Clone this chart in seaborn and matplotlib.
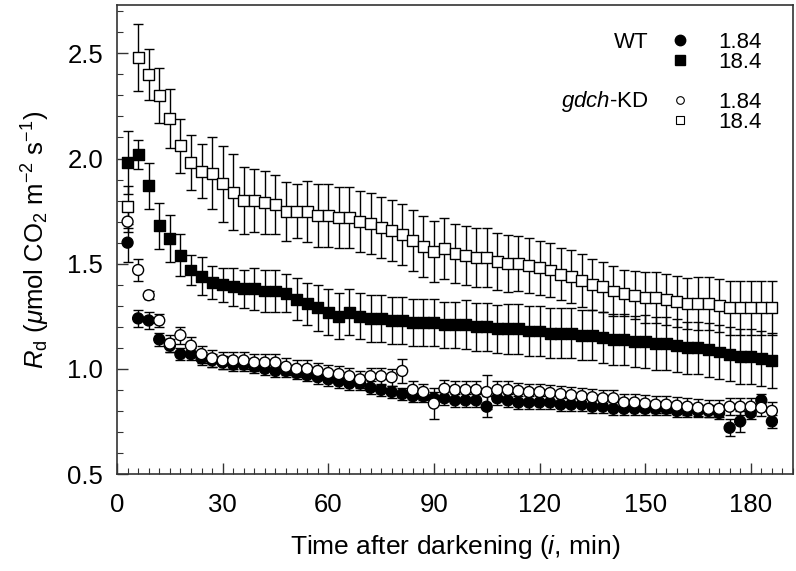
import numpy as np
import pandas as pd
import matplotlib
matplotlib.use("Agg")
import matplotlib.pyplot as plt
from matplotlib.lines import Line2D
from matplotlib.ticker import MultipleLocator, FormatStrFormatter
import seaborn as sns

# sampling times (min after darkening)
time = [3, 6, 9, 12, 15, 18, 21, 24, 27, 30, 33, 36, 39, 42, 45, 48, 51, 54, 57, 60,
        63, 66, 69, 72, 75, 78, 81, 84, 87, 90, 93, 96, 99, 102, 105, 108, 111, 114, 117, 120,
        123, 126, 129, 132, 135, 138, 141, 144, 147, 150, 153, 156, 159, 162, 165, 168, 171, 174, 177, 180,
        183, 186]

# WT, 1.84
wt_lo = [1.60, 1.24, 1.23, 1.14, 1.11, 1.07, 1.07, 1.05, 1.04, 1.03,
         1.02, 1.02, 1.01, 1.00, 0.99, 0.99, 0.98, 0.97, 0.96, 0.95,
         0.94, 0.93, 0.93, 0.91, 0.90, 0.89, 0.88, 0.87, 0.87, 0.86,
         0.86, 0.85, 0.85, 0.85, 0.82, 0.86, 0.85, 0.84, 0.84, 0.84,
         0.84, 0.83, 0.83, 0.83, 0.82, 0.82, 0.81, 0.81, 0.81, 0.81,
         0.81, 0.81, 0.80, 0.80, 0.80, 0.80, 0.79, 0.72, 0.75, 0.79,
         0.85, 0.75]
wt_lo_err = [0.09, 0.04, 0.04, 0.03, 0.03, 0.03, 0.03, 0.03, 0.03, 0.03,
             0.03, 0.03, 0.03, 0.03, 0.03, 0.03, 0.03, 0.03, 0.03, 0.03,
             0.03, 0.03, 0.03, 0.03, 0.03, 0.03, 0.03, 0.03, 0.03, 0.03,
             0.03, 0.03, 0.03, 0.03, 0.05, 0.03, 0.03, 0.03, 0.03, 0.03,
             0.03, 0.03, 0.03, 0.03, 0.03, 0.03, 0.03, 0.03, 0.03, 0.03,
             0.03, 0.03, 0.03, 0.03, 0.03, 0.03, 0.03, 0.04, 0.05, 0.03,
             0.03, 0.03]

# WT, 18.4
wt_hi = [1.98, 2.02, 1.87, 1.68, 1.62, 1.54, 1.47, 1.44, 1.41, 1.40,
         1.39, 1.38, 1.38, 1.37, 1.37, 1.36, 1.33, 1.31, 1.29, 1.27,
         1.25, 1.27, 1.25, 1.24, 1.24, 1.23, 1.23, 1.22, 1.22, 1.22,
         1.21, 1.21, 1.21, 1.20, 1.20, 1.19, 1.19, 1.19, 1.18, 1.18,
         1.17, 1.17, 1.17, 1.16, 1.16, 1.15, 1.14, 1.14, 1.13, 1.13,
         1.12, 1.12, 1.11, 1.10, 1.10, 1.09, 1.08, 1.07, 1.06, 1.06,
         1.05, 1.04]
wt_hi_err = [0.15, 0.07, 0.11, 0.11, 0.11, 0.10, 0.07, 0.09, 0.08, 0.08,
             0.09, 0.09, 0.10, 0.10, 0.10, 0.09, 0.10, 0.10, 0.11, 0.11,
             0.11, 0.11, 0.11, 0.11, 0.11, 0.11, 0.11, 0.11, 0.11, 0.11,
             0.11, 0.11, 0.115, 0.115, 0.115, 0.115, 0.12, 0.12, 0.12, 0.12,
             0.12, 0.12, 0.12, 0.12, 0.12, 0.12, 0.12, 0.12, 0.12, 0.125,
             0.125, 0.125, 0.125, 0.125, 0.125, 0.13, 0.13, 0.13, 0.13, 0.13,
             0.13, 0.13]

# gdch-KD, 1.84
kd_lo = [1.70, 1.47, 1.35, 1.23, 1.12, 1.16, 1.11, 1.07, 1.05, 1.04,
         1.04, 1.04, 1.03, 1.03, 1.03, 1.01, 1.00, 1.00, 0.99, 0.98,
         0.975, 0.965, 0.95, 0.965, 0.965, 0.96, 0.99, 0.90, 0.89, 0.835,
         0.905, 0.90, 0.90, 0.90, 0.89, 0.90, 0.90, 0.895, 0.89, 0.89,
         0.885, 0.88, 0.875, 0.87, 0.865, 0.86, 0.86, 0.84, 0.84, 0.835,
         0.83, 0.83, 0.825, 0.82, 0.815, 0.81, 0.81, 0.82, 0.82, 0.82,
         0.815, 0.80]
kd_lo_err = [0.05, 0.05, 0.02, 0.03, 0.04, 0.04, 0.04, 0.04, 0.04, 0.04,
             0.04, 0.04, 0.04, 0.04, 0.04, 0.04, 0.04, 0.04, 0.04, 0.04,
             0.04, 0.04, 0.04, 0.04, 0.04, 0.04, 0.055, 0.04, 0.04, 0.075,
             0.04, 0.04, 0.04, 0.04, 0.08, 0.04, 0.04, 0.04, 0.04, 0.04,
             0.04, 0.04, 0.04, 0.04, 0.04, 0.04, 0.04, 0.04, 0.04, 0.04,
             0.04, 0.04, 0.04, 0.04, 0.04, 0.04, 0.04, 0.04, 0.04, 0.04,
             0.04, 0.04]

# gdch-KD, 18.4
kd_hi = [1.77, 2.48, 2.40, 2.30, 2.19, 2.06, 1.98, 1.94, 1.93, 1.88,
         1.84, 1.80, 1.80, 1.79, 1.78, 1.75, 1.75, 1.75, 1.73, 1.73,
         1.72, 1.72, 1.70, 1.69, 1.67, 1.66, 1.64, 1.61, 1.58, 1.56,
         1.57, 1.55, 1.54, 1.53, 1.53, 1.51, 1.50, 1.50, 1.49, 1.48,
         1.47, 1.45, 1.44, 1.42, 1.40, 1.39, 1.37, 1.36, 1.35, 1.34,
         1.34, 1.33, 1.32, 1.31, 1.31, 1.31, 1.30, 1.29, 1.29, 1.29,
         1.29, 1.29]
kd_hi_err = [0.10, 0.16, 0.12, 0.13, 0.14, 0.13, 0.13, 0.13, 0.17, 0.18,
             0.18, 0.16, 0.15, 0.15, 0.14, 0.14, 0.13, 0.145, 0.15, 0.15,
             0.145, 0.145, 0.145, 0.145, 0.145, 0.145, 0.145, 0.145, 0.145, 0.145,
             0.145, 0.14, 0.14, 0.14, 0.14, 0.135, 0.135, 0.13, 0.13, 0.13,
             0.13, 0.125, 0.125, 0.125, 0.12, 0.12, 0.12, 0.11, 0.115, 0.12,
             0.12, 0.12, 0.12, 0.12, 0.125, 0.125, 0.125, 0.13, 0.13, 0.13,
             0.13, 0.13]

groups = ["WT 1.84", "gdch-KD 1.84", "WT 18.4", "gdch-KD 18.4"]
values = {"WT 1.84": (wt_lo, wt_lo_err), "WT 18.4": (wt_hi, wt_hi_err),
          "gdch-KD 1.84": (kd_lo, kd_lo_err), "gdch-KD 18.4": (kd_hi, kd_hi_err)}

frames = []
for g in groups:
    v, e = values[g]
    frames.append(pd.DataFrame({"time": time, "rd": v, "err": e, "group": g}))
df = pd.concat(frames, ignore_index=True)

sns.set_style("ticks")
plt.rcParams["font.family"] = ["Liberation Sans", "DejaVu Sans"]
plt.rcParams["mathtext.fontset"] = "custom"
plt.rcParams["mathtext.rm"] = "Liberation Sans"
plt.rcParams["mathtext.it"] = "Liberation Sans:italic"
plt.rcParams["text.color"] = "black"
plt.rcParams["axes.labelcolor"] = "black"
plt.rcParams["xtick.labelcolor"] = "black"
plt.rcParams["ytick.labelcolor"] = "black"

fig = plt.figure(figsize=(7.96, 5.71), dpi=100)
ax = fig.add_axes([117 / 796, 1 - 474 / 571, (793 - 117) / 796, (474 - 5) / 571])

for g in groups:
    sub = df[df["group"] == g]
    ax.errorbar(sub["time"], sub["rd"], yerr=sub["err"], fmt="none", ecolor="black",
                elinewidth=1.0, capsize=3.8, capthick=1.0, zorder=2)

palette = {"WT 1.84": "black", "WT 18.4": "black", "gdch-KD 1.84": "white", "gdch-KD 18.4": "white"}
markers = {"WT 1.84": "o", "WT 18.4": "s", "gdch-KD 1.84": "o", "gdch-KD 18.4": "s"}
sns.scatterplot(data=df, x="time", y="rd", hue="group", style="group", hue_order=groups,
                style_order=groups, palette=palette, markers=markers, s=62,
                edgecolor="black", linewidth=1.0, legend=False, zorder=3, ax=ax)

ax.set_xlim(0, 192)
ax.set_ylim(0.5, 2.73)
ax.xaxis.set_major_locator(MultipleLocator(30))
ax.xaxis.set_minor_locator(MultipleLocator(3))
ax.yaxis.set_major_locator(MultipleLocator(0.5))
ax.yaxis.set_minor_locator(MultipleLocator(0.1))
ax.yaxis.set_major_formatter(FormatStrFormatter("%.1f"))
ax.tick_params(which="both", direction="in", top=False, right=False, color="#333333")
ax.tick_params(which="major", length=8, width=1.0, labelsize=18.5, pad=14)
ax.tick_params(which="minor", length=4, width=0.8)
ax.tick_params(axis="y", which="major", pad=10)
for sp in ax.spines.values():
    sp.set_color("#333333")
    sp.set_linewidth(1.2)

ax.set_xlabel(r"Time after darkening ($\mathit{i}$, min)", fontsize=19, labelpad=11)
ax.set_ylabel(r"$R_{\rm d}$ ($\mu$mol CO$_2$ m$^{-2}$ s$^{-1}$)", fontsize=18.5, labelpad=11)

handles = [
    Line2D([], [], ls="none", marker="o", ms=7.5, mfc="black", mec="black"),
    Line2D([], [], ls="none", marker="s", ms=7.5, mfc="black", mec="black"),
    Line2D([], [], ls="none", marker="none"),
    Line2D([], [], ls="none", marker="o", ms=5.5, mfc="white", mec="black", mew=0.8),
    Line2D([], [], ls="none", marker="s", ms=5.5, mfc="white", mec="black", mew=0.8),
]
labels = ["1.84", "18.4", " ", "1.84", "18.4"]
leg = ax.legend(handles, labels, loc="upper left", bbox_to_anchor=(669 / 796, 1 - 32 / 571),
                bbox_transform=fig.transFigure, frameon=False, fontsize=16,
                handlelength=1.0, handletextpad=1.2, borderpad=0, borderaxespad=0,
                labelspacing=-0.05)
fig.text(649 / 796, 1 - 42 / 571, "WT", ha="right", va="center", fontsize=16)
fig.text(649 / 796, 1 - 102 / 571, r"$\mathit{gdch}$-KD", ha="right", va="center", fontsize=16)

fig.savefig("out.png", dpi=100)
